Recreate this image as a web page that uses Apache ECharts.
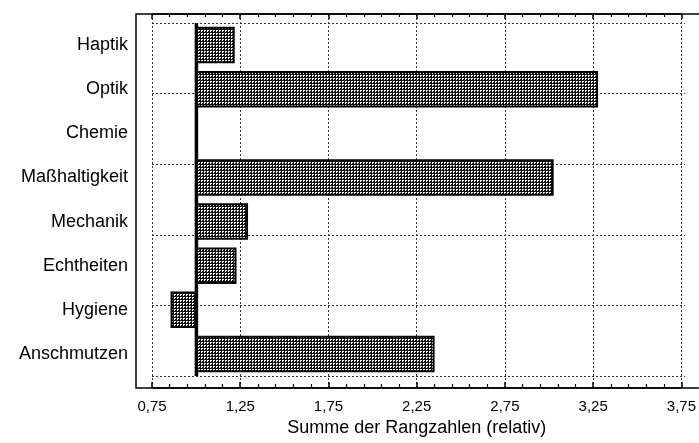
<!DOCTYPE html>
<html>
<head>
<meta charset="utf-8">
<script src="https://cdn.jsdelivr.net/npm/echarts@6/dist/echarts.min.js"></script>
<style>
    html, body { margin: 0; padding: 0; background: #fff; }
    #chart { width: 699px; height: 443px; }
</style>
</head>
<body>
<div id="chart"></div>
<script>
// Kategorien von oben nach unten
const categories = ['Haptik', 'Optik', 'Chemie', 'Maßhaltigkeit', 'Mechanik', 'Echtheiten', 'Hygiene', 'Anschmutzen']
// relative Summe der Rangzahlen
const values = [1.21, 3.255, 1.0, 3.005, 1.285, 1.22, 0.86, 2.335]
const baseValue = 1
const xTicks = [0.75, 1.25, 1.75, 2.25, 2.75, 3.25, 3.75]

const FONT = 'Liberation Sans'

// Raster-Schraffur wie im Original
function makePattern() {
    let c = document.createElement('canvas')
    c.width = 3
    c.height = 3
    let ctx = c.getContext('2d')
    ctx.fillStyle = '#111'
    ctx.fillRect(0, 0, 3, 3)
    ctx.fillStyle = '#fff'
    ctx.fillRect(0, 0, 2, 1)
    ctx.fillRect(0, 1, 1, 1)
    return c
}
const pattern = makePattern()

const fmt = v => String(v).replace('.', ',')

let chart = echarts.init(document.getElementById('chart'), null, { renderer: 'canvas' })

const xMin = xTicks[0]
const xMax = xTicks[xTicks.length - 1]

let option = {
    backgroundColor: '#fff',
    animation: false,
    grid: [
        { left: 152, right: 14, top: 14, bottom: 55 }, // Rahmen, Ticks
        { left: 152, right: 14, top: 23, bottom: 67 }  // Balken
    ],
    xAxis: [
        {
            gridIndex: 0, type: 'value', position: 'bottom',
            min: xMin, max: xMax, interval: 0.5,
            axisLine: { show: true, lineStyle: { color: '#000', width: 1.5 } },
            axisTick: { show: true, inside: true, length: 6, lineStyle: { color: '#000', width: 1.5 } },
            minorTick: { show: true, splitNumber: 5, length: 4, lineStyle: { color: '#000', width: 1.2 } },
            splitLine: { show: true, lineStyle: { color: '#333', width: 1, type: [2, 2] } },
            axisLabel: { color: '#000', fontFamily: FONT, fontSize: 15, margin: 11, formatter: fmt },
            name: 'Summe der Rangzahlen (relativ)',
            nameLocation: 'middle',
            nameGap: 28,
            nameTextStyle: { color: '#000', fontFamily: FONT, fontSize: 18 }
        },
        {
            gridIndex: 0, type: 'value', position: 'top',
            min: xMin, max: xMax, interval: 0.5,
            axisLine: { show: true, lineStyle: { color: '#000', width: 1.5 } },
            axisTick: { show: true, inside: true, length: 5, lineStyle: { color: '#000', width: 1.5 } },
            minorTick: { show: true, splitNumber: 5, length: 3, lineStyle: { color: '#000', width: 1.2 } },
            splitLine: { show: false },
            axisLabel: { show: false }
        },
        {
            gridIndex: 1, type: 'value',
            min: xMin, max: xMax, interval: 0.5,
            show: false
        }
    ],
    yAxis: [
        { gridIndex: 0, type: 'value', show: false, min: 0, max: 1 },
        {
            gridIndex: 1, type: 'category', data: categories, inverse: true,
            axisLine: { show: false },
            axisTick: { show: false },
            splitLine: { show: false },
            axisLabel: { color: '#000', fontFamily: FONT, fontSize: 18, margin: 24 }
        },
        {
            gridIndex: 1, type: 'value', min: 0, max: 5, interval: 1,
            axisLine: { show: false },
            axisTick: { show: false },
            axisLabel: { show: false },
            splitLine: { show: true, lineStyle: { color: '#333', width: 1, type: [2, 2] } }
        }
    ],
    graphic: [
        {
            type: 'rect', silent: true, z: 100,
            shape: { x: 136, y: 14, width: 600, height: 374 },
            style: { fill: 'none', stroke: '#000', lineWidth: 1.5 }
        }
    ],
    series: [
        {
            type: 'custom',
            xAxisIndex: 2,
            yAxisIndex: 1,
            dimensions: ['start', 'end', 'cat'],
            encode: { x: [0, 1], y: 2 },
            data: values.map((v, i) => [baseValue, v, i]),
            renderItem: function (params, api) {
                let start = api.coord([api.value(0), api.value(2)])
                let end = api.coord([api.value(1), api.value(2)])
                let band = api.size([0, 1])[1]
                let h = band * 0.78
                let w = Math.abs(end[0] - start[0])
                if (w < 0.5) return null
                return {
                    type: 'rect',
                    shape: { x: Math.min(start[0], end[0]), y: start[1] - h / 2, width: w, height: h },
                    style: {
                        fill: { image: pattern, repeat: 'repeat' },
                        stroke: '#000',
                        lineWidth: 2
                    }
                }
            },
            z: 5
        },
        {
            // dicke Bezugslinie bei 1,0
            type: 'custom',
            xAxisIndex: 2,
            yAxisIndex: 1,
            encode: { x: 0 },
            data: [[baseValue]],
            renderItem: function (params, api) {
                let cs = params.coordSys
                let x = api.coord([api.value(0), 0])[0]
                return {
                    type: 'line',
                    shape: { x1: x, y1: cs.y, x2: x, y2: cs.y + cs.height },
                    style: { stroke: '#000', lineWidth: 3.5 }
                }
            },
            z: 6
        }
    ]
}

chart.setOption(option)
</script>
</body>
</html>
